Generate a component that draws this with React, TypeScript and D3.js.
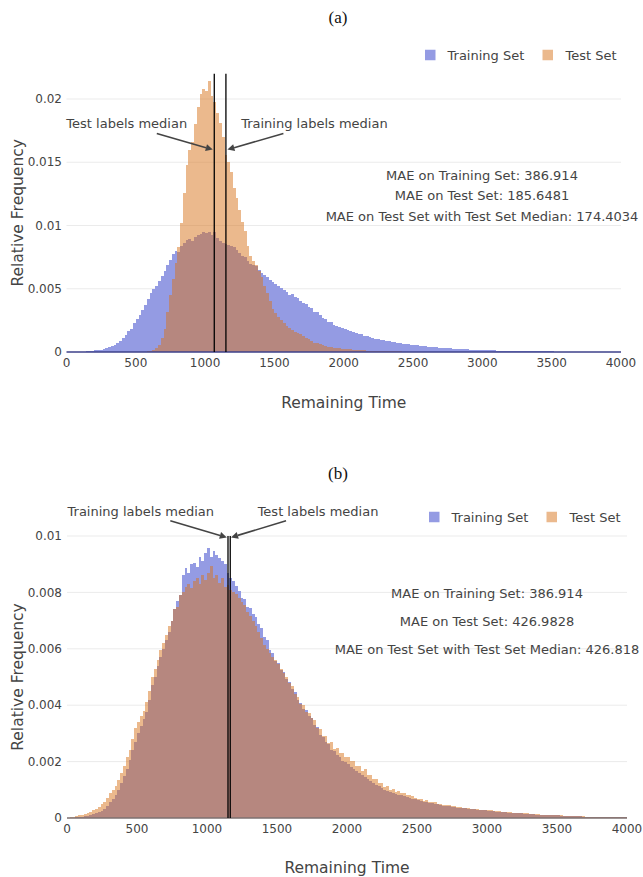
import React from 'react';
import * as d3 from 'd3';

// histogram bins: 20 time units wide, heights are relative frequency * 1e5
const BIN = 20;
const binStarts = d3.range(0, 4000, BIN);

const trainA = [
  0, 0, 0, 1, 1, 2, 3, 4, 6, 8, 12, 15, 19, 25, 31, 37, 46, 58, 73, 88,
  108, 138, 166, 178, 228, 262, 296, 334, 368, 418, 468, 498, 524, 562, 598, 642, 688, 724, 776, 802,
  788, 838, 858, 884, 896, 878, 906, 922, 934, 952, 938, 948, 924, 950, 902, 880, 862, 852, 842, 838,
  828, 808, 786, 762, 748, 722, 698, 690, 680, 652, 622, 610, 592, 570, 556, 540, 522, 506, 494, 472,
  452, 456, 432, 428, 404, 386, 376, 352, 344, 318, 314, 290, 268, 258, 240, 234, 214, 208, 194, 192,
  182, 170, 168, 158, 152, 144, 142, 128, 128, 118, 114, 106, 102, 96, 97, 90, 89, 79, 80, 71,
  70, 66, 62, 60, 57, 55, 52, 50, 48, 46, 42, 40, 38, 36, 35, 33, 31, 30, 28, 27,
  25, 24, 22, 21, 20, 19, 18, 17, 16, 15, 15, 14, 13, 12, 12, 11, 10, 10, 9, 9,
  8, 8, 7, 7, 7, 6, 6, 6, 5, 5, 5, 5, 4, 4, 4, 4, 3, 3, 3, 3,
  3, 3, 3, 2, 2, 2, 2, 2, 2, 2, 2, 1, 1, 1, 1, 1, 1, 1, 1, 1,
];

const testA = [
  0, 0, 0, 0, 0, 0, 0, 0, 0, 0, 0, 0, 0, 0, 0, 0, 0, 0, 0, 0,
  0, 0, 0, 0, 0, 0, 0, 1, 2, 4, 8, 15, 30, 55, 110, 180, 320, 450, 580, 700,
  830, 1020, 1260, 1480, 1600, 1660, 1800, 1940, 2040, 2080, 2060, 2140, 2020, 1980, 1890, 1810, 1700, 1560, 1500, 1420,
  1300, 1220, 1120, 1030, 960, 840, 760, 720, 690, 640, 590, 520, 470, 400, 340, 310, 280, 250, 230, 205,
  190, 175, 160, 150, 140, 125, 110, 100, 88, 75, 68, 60, 52, 45, 42, 38, 34, 30, 28, 26,
  24, 22, 20, 18, 16, 15, 14, 12, 11, 10, 9, 8, 8, 7, 6, 6, 5, 5, 4, 4,
  4, 3, 3, 3, 2, 2, 2, 2, 1, 1, 1, 1, 1, 1, 1, 0, 0, 1, 0, 0,
  0, 1, 0, 0, 0, 1, 0, 0, 0, 0, 0, 0, 1, 0, 0, 0, 0, 0, 0, 0,
  0, 0, 0, 0, 0, 0, 0, 0, 0, 0, 0, 0, 0, 0, 0, 0, 0, 0, 0, 0,
  0, 0, 0, 0, 0, 0, 0, 0, 0, 0, 0, 0, 0, 0, 0, 0, 0, 0, 0, 0,
];

const trainB = [
  0, 0, 1, 2, 3, 5, 6, 8, 10, 13, 16, 20, 26, 33, 42, 55, 68, 82, 100, 125,
  150, 175, 205, 240, 270, 300, 325, 350, 375, 420, 470, 500, 540, 570, 600, 630, 660, 700, 740, 770,
  790, 860, 885, 870, 900, 905, 890, 925, 912, 940, 958, 925, 948, 932, 922, 912, 900, 868, 852, 840,
  822, 806, 780, 776, 750, 746, 722, 714, 688, 674, 642, 630, 596, 584, 556, 548, 526, 516, 494, 484,
  458, 446, 418, 408, 386, 382, 360, 356, 330, 322, 296, 288, 268, 262, 242, 236, 222, 218, 202, 200,
  190, 182, 175, 168, 160, 152, 146, 138, 130, 124, 118, 112, 106, 100, 96, 93, 90, 86, 83, 80,
  78, 75, 72, 69, 66, 64, 61, 58, 56, 54, 52, 50, 48, 46, 44, 43, 41, 40, 38, 37,
  36, 35, 34, 33, 32, 31, 30, 29, 28, 27, 26, 25, 24, 23, 22, 21, 20, 19, 19, 18,
  17, 16, 16, 15, 14, 14, 13, 12, 12, 11, 11, 10, 10, 9, 9, 9, 8, 8, 7, 7,
  7, 6, 6, 6, 5, 5, 5, 5, 4, 4, 4, 4, 3, 3, 3, 3, 3, 2, 2, 2,
];

const testB = [
  0, 2, 5, 8, 10, 12, 15, 18, 22, 28, 32, 40, 50, 58, 70, 90, 100, 115, 135, 160,
  185, 215, 240, 280, 320, 340, 360, 380, 410, 450, 500, 530, 560, 595, 620, 650, 680, 700, 740, 750,
  790, 800, 820, 830, 815, 840, 850, 830, 860, 845, 870, 895, 850, 860, 835, 850, 820, 825, 810, 800,
  795, 780, 765, 755, 730, 715, 700, 680, 660, 640, 615, 600, 585, 570, 560, 545, 530, 515, 500, 480,
  468, 440, 430, 406, 400, 376, 374, 356, 346, 320, 316, 290, 290, 266, 268, 246, 248, 232, 230, 216,
  216, 202, 202, 186, 184, 168, 172, 154, 154, 138, 140, 124, 124, 110, 112, 100, 102, 93, 95, 88,
  90, 83, 81, 78, 70, 69, 67, 62, 65, 57, 55, 56, 50, 51, 47, 45, 47, 42, 43, 39,
  38, 37, 36, 35, 33, 32, 31, 30, 30, 29, 28, 27, 26, 25, 24, 23, 22, 21, 20, 19,
  19, 18, 17, 16, 16, 15, 14, 14, 13, 12, 12, 11, 11, 10, 10, 9, 9, 8, 8, 8,
  7, 7, 6, 6, 6, 5, 5, 5, 4, 4, 4, 4, 3, 3, 3, 3, 2, 2, 2, 2,
];

const xTicks = [0, 500, 1000, 1500, 2000, 2500, 3000, 3500, 4000];
const yTicksA = [0, 0.005, 0.01, 0.015, 0.02];
const yTicksB = [0, 0.002, 0.004, 0.006, 0.008, 0.01];

const maeA = [
  'MAE on Training Set: 386.914',
  'MAE on Test Set: 185.6481',
  'MAE on Test Set with Test Set Median: 174.4034',
];
const maeB = [
  'MAE on Training Set: 386.914',
  'MAE on Test Set: 426.9828',
  'MAE on Test Set with Test Set Median: 426.818',
];

const mediansA = { train: 1150, test: 1066 };
const mediansB = { train: 1150, test: 1166 };

const BLUE = '#949be3';
const ORANGE = 'rgba(215,115,27,0.5)';
const ORANGE_KEY = '#ebb98d';
const TXT = '#444';
const FONT = '"DejaVu Sans", Verdana, sans-serif';
const fmt = d3.format('~g');

const Arrow = ({ hx, hy, dx, dy, tdx, tdy, label }) => {
  const len = Math.hypot(dx, dy);
  const ux = dx / len;
  const uy = dy / len;
  const hl = 7;
  const hw = 3.5;
  const bx = hx + ux * hl;
  const by = hy + uy * hl;
  const head = `M${hx},${hy}L${bx - uy * hw},${by + ux * hw}L${bx + uy * hw},${by - ux * hw}Z`;
  return (
    <g>
      <line x1={hx + dx} y1={hy + dy} x2={bx} y2={by} stroke={TXT} strokeWidth={1.6} />
      <path d={head} fill={TXT} />
      <text x={hx + tdx} y={hy + tdy} dy="0.35em" textAnchor="middle" fontSize={13} fill={TXT}>
        {label}
      </text>
    </g>
  );
};

const Panel = ({ title, titleY, left, right, bottom, top, yMax, yTicks, train, test, medians,
  medianTop, arrowY, arrows, mae, maeX, maeY, maeGap, legendX, legendY, zeroColor, xTitleY }) => {
  const x = d3.scaleLinear().domain([0, 4000]).range([left, right]);
  const y = d3.scaleLinear().domain([0, yMax]).range([bottom, top]);
  const w = x(BIN) - x(0);
  const hy = y(arrowY);
  return (
    <g fontFamily={FONT}>
      <text x={338} y={titleY} textAnchor="middle" fontFamily='"Liberation Serif", "Times New Roman", serif'
        fontSize={17} fill="#111">{title}</text>
      {yTicks.slice(1).map((t) => (
        <line key={t} x1={left} x2={right} y1={y(t)} y2={y(t)} stroke="#ebebeb" strokeWidth={1} />
      ))}
      <g shapeRendering="crispEdges">
        {binStarts.map((b, i) => train[i] > 0 && (
          <rect key={`tr${b}`} x={x(b)} width={w} y={y(train[i] * 1e-5)}
            height={bottom - y(train[i] * 1e-5)} fill={BLUE} />
        ))}
        {binStarts.map((b, i) => test[i] > 0 && (
          <rect key={`te${b}`} x={x(b)} width={w} y={y(test[i] * 1e-5)}
            height={bottom - y(test[i] * 1e-5)} fill={ORANGE} />
        ))}
      </g>
      <line x1={left} x2={right} y1={bottom} y2={bottom} stroke={zeroColor} strokeWidth={1.5} />
      {[medians.test, medians.train].map((m) => (
        <line key={m} x1={x(m)} x2={x(m)} y1={bottom} y2={y(medianTop)} stroke="#000" strokeWidth={1.3} />
      ))}
      {arrows.map((a) => (
        <Arrow key={a.label} hx={x(medians[a.which]) + a.off} hy={hy} dx={a.dx} dy={a.dy}
          tdx={a.tdx} tdy={a.tdy} label={a.label} />
      ))}
      {yTicks.map((t) => (
        <text key={t} x={62} y={y(t)} dy="0.35em" textAnchor="end" fontSize={12} fill={TXT}>{fmt(t)}</text>
      ))}
      {xTicks.map((t) => (
        <text key={t} x={x(t)} y={bottom + 11} dy="0.35em" textAnchor="middle" fontSize={12} fill={TXT}>{t}</text>
      ))}
      <text x={(left + right) / 2} y={xTitleY} dy="0.35em" textAnchor="middle" fontSize={15.5} fill={TXT}>
        Remaining Time
      </text>
      <text transform={`translate(17.5,${(top + bottom) / 2}) rotate(-90)`} dy="0.35em" textAnchor="middle"
        fontSize={15.5} fill={TXT}>Relative Frequency</text>
      {mae.map((s, i) => (
        <text key={s} x={maeX} y={maeY + i * maeGap} dy="0.35em" textAnchor="middle" fontSize={13} fill={TXT}>{s}</text>
      ))}
      <g transform={`translate(${legendX},${legendY})`}>
        <rect x={0} y={-5.25} width={10.5} height={10.5} fill={BLUE} />
        <text x={22.5} y={0} dy="0.35em" fontSize={13} fill={TXT}>Training Set</text>
        <rect x={117.5} y={-5.25} width={10.5} height={10.5} fill={ORANGE_KEY} />
        <text x={140.5} y={0} dy="0.35em" fontSize={13} fill={TXT}>Test Set</text>
      </g>
    </g>
  );
};

export default function App() {
  return (
    <div style={{ position: 'absolute', left: 0, top: 0 }}>
      <svg width={643} height={877} style={{ display: 'block', background: '#fff' }}>
        <Panel title="(a)" titleY={23} left={66.5} right={621} bottom={352} top={73.7} yMax={0.022}
          yTicks={yTicksA} train={trainA} test={testA} medians={mediansA} medianTop={0.022}
          arrowY={0.016}
          arrows={[
            { which: 'test', off: -1.5, dx: -56, dy: -16, tdx: -86, tdy: -26, label: 'Test labels median' },
            { which: 'train', off: 1.5, dx: 56, dy: -16, tdx: 87, tdy: -26, label: 'Training labels median' },
          ]}
          mae={maeA} maeX={482} maeY={175} maeGap={20.5} legendX={425} legendY={55}
          zeroColor="#3d418a" xTitleY={403} />
        <Panel title="(b)" titleY={479} left={67} right={627} bottom={818} top={536} yMax={0.01}
          yTicks={yTicksB} train={trainB} test={testB} medians={mediansB} medianTop={0.01}
          arrowY={0.00995}
          arrows={[
            { which: 'train', off: -1.2, dx: -56.5, dy: -16.6, tdx: -86, tdy: -25.6, label: 'Training labels median' },
            { which: 'test', off: 0.8, dx: 55, dy: -16.6, tdx: 87, tdy: -25.6, label: 'Test labels median' },
          ]}
          mae={maeB} maeX={487} maeY={593} maeGap={28} legendX={429} legendY={517}
          zeroColor="#7d7070" xTitleY={868} />
      </svg>
    </div>
  );
}
